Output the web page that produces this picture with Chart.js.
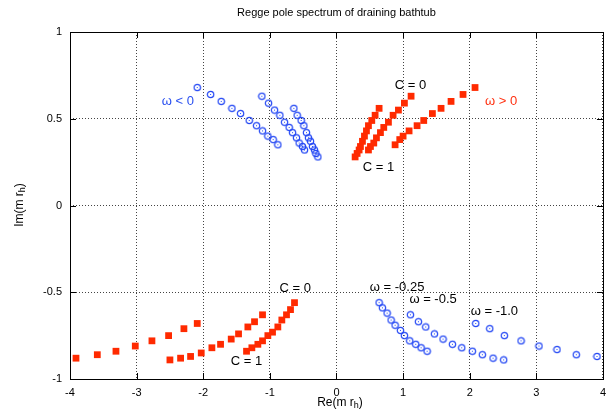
<!DOCTYPE html>
<html>
<head>
<meta charset="utf-8">
<script src="https://cdn.jsdelivr.net/npm/chart.js@4/dist/chart.umd.min.js"></script>
<style>
  html, body { margin: 0; padding: 0; background: #fff; }
</style>
</head>
<body>
<canvas id="chart" width="613" height="414"></canvas>
<script>
// Regge poles, omega < 0 (blue circles, upper left)
const negA_x = [-2.09, -1.89, -1.73, -1.57, -1.44, -1.31, -1.20, -1.11, -1.03, -0.95, -0.88];
const negA_y = [0.68, 0.64, 0.60, 0.56, 0.53, 0.49, 0.46, 0.43, 0.40, 0.38, 0.35];
const negB_x = [-1.12, -1.02, -0.93, -0.85, -0.78, -0.71, -0.66, -0.60, -0.56, -0.51, -0.48];
const negB_y = [0.63, 0.59, 0.55, 0.52, 0.48, 0.45, 0.42, 0.39, 0.36, 0.34, 0.32];
const negC_x = [-0.64, -0.59, -0.53, -0.49, -0.45, -0.42, -0.39, -0.36, -0.33, -0.31, -0.28];
const negC_y = [0.56, 0.52, 0.49, 0.46, 0.42, 0.39, 0.37, 0.34, 0.32, 0.30, 0.28];

// omega > 0 (red squares, upper right)
const posC_x = [0.28, 0.31, 0.34, 0.36, 0.39, 0.42, 0.45, 0.48, 0.53, 0.58, 0.64];
const posC_y = [0.28, 0.30, 0.32, 0.34, 0.37, 0.40, 0.43, 0.46, 0.49, 0.52, 0.56];
const posB_x = [0.48, 0.51, 0.56, 0.60, 0.66, 0.71, 0.78, 0.85, 0.93, 1.02, 1.12];
const posB_y = [0.32, 0.34, 0.36, 0.39, 0.42, 0.45, 0.48, 0.52, 0.55, 0.59, 0.63];
const posA_x = [0.88, 0.95, 1.00, 1.09, 1.21, 1.31, 1.44, 1.57, 1.72, 1.90, 2.08];
const posA_y = [0.35, 0.38, 0.40, 0.43, 0.46, 0.49, 0.53, 0.56, 0.60, 0.64, 0.68];

// lower left (red squares)
const lowP_x = [-3.91, -3.59, -3.31, -3.02, -2.77, -2.52, -2.29, -2.09];
const lowP_y = [-0.88, -0.86, -0.84, -0.81, -0.78, -0.75, -0.71, -0.68];
const lowQ_x = [-2.50, -2.34, -2.19, -2.03, -1.87, -1.74, -1.58, -1.47, -1.33, -1.23, -1.11];
const lowQ_y = [-0.89, -0.88, -0.87, -0.85, -0.82, -0.80, -0.77, -0.74, -0.70, -0.67, -0.63];
const lowR_x = [-1.35, -1.27, -1.18, -1.11, -1.03, -0.96, -0.88, -0.82, -0.75, -0.69, -0.63];
const lowR_y = [-0.84, -0.82, -0.80, -0.78, -0.75, -0.73, -0.70, -0.66, -0.63, -0.60, -0.56];

// lower right (blue circles), omega = -0.25, -0.5, -1.0
const w025_x = [0.64, 0.69, 0.76, 0.82, 0.88, 0.96, 1.02, 1.10, 1.19, 1.27, 1.36];
const w025_y = [-0.56, -0.59, -0.62, -0.66, -0.69, -0.72, -0.75, -0.78, -0.80, -0.82, -0.84];
const w05_x = [1.11, 1.23, 1.34, 1.47, 1.60, 1.74, 1.88, 2.04, 2.19, 2.35, 2.51];
const w05_y = [-0.63, -0.67, -0.70, -0.74, -0.77, -0.80, -0.82, -0.84, -0.86, -0.88, -0.89];
const w10_x = [2.09, 2.30, 2.52, 2.77, 3.04, 3.31, 3.60, 3.91];
const w10_y = [-0.68, -0.71, -0.75, -0.78, -0.81, -0.83, -0.86, -0.87];

// text labels on the plot (data coords)
const labelText = ['ω < 0', 'ω > 0', 'C = 0', 'C = 1', 'C = 0', 'C = 1', 'ω = -0.25', 'ω = -0.5', 'ω = -1.0'];
const labelX = [-2.38, 2.47, 1.11, 0.63, -0.62, -1.35, 0.91, 1.45, 2.37];
const labelY = [0.60, 0.60, 0.69, 0.22, -0.48, -0.90, -0.47, -0.54, -0.61];
const labelColor = ['#2a50f0', '#ff3010', '#000', '#000', '#000', '#000', '#000', '#000', '#000'];

const BLUE = '#2448f4';
const RED = '#ff2a00';

// open circle with a dot in the middle, like gnuplot
function circleMark() {
    let c = document.createElement('canvas');
    c.width = 9; c.height = 9;
    let g = c.getContext('2d');
    g.strokeStyle = BLUE;
    g.lineWidth = 1.2;
    g.beginPath();
    g.arc(4.5, 4.5, 3.2, 0, Math.PI * 2);
    g.stroke();
    g.fillStyle = BLUE;
    g.fillRect(4, 4, 1, 1);
    return c;
}
const circ = circleMark();

function pts(xs, ys) {
    return xs.map((x, i) => ({x: x, y: ys[i]}));
}
function blue(xs, ys) {
    return {data: pts(xs, ys), pointStyle: circ, pointRadius: 4, showLine: false};
}
function red(xs, ys) {
    return {data: pts(xs, ys), pointStyle: 'rect', pointRadius: 4.8, pointBorderWidth: 0,
        backgroundColor: RED, borderColor: RED, showLine: false};
}

const FONT = 'Liberation Sans, Arial, Helvetica, sans-serif';

// frame, inward ticks, labels and axis titles
const extras = {
    id: 'extras',
    afterDatasetsDraw(chart) {
        let ctx = chart.ctx;
        let a = chart.chartArea;
        let xs = chart.scales.x, ys = chart.scales.y;
        ctx.save();
        ctx.strokeStyle = '#000';
        ctx.lineWidth = 1;
        ctx.beginPath();
        xs.ticks.forEach(t => {
            let px = Math.round(xs.getPixelForValue(t.value)) + 0.5;
            ctx.moveTo(px, a.top); ctx.lineTo(px, a.top + 6);
            ctx.moveTo(px, a.bottom); ctx.lineTo(px, a.bottom - 6);
        });
        ys.ticks.forEach(t => {
            let py = Math.round(ys.getPixelForValue(t.value)) + 0.5;
            ctx.moveTo(a.left, py); ctx.lineTo(a.left + 6, py);
            ctx.moveTo(a.right, py); ctx.lineTo(a.right - 6, py);
        });
        ctx.stroke();
        ctx.strokeRect(Math.round(a.left) + 0.5, Math.round(a.top) + 0.5,
            Math.round(a.right - a.left), Math.round(a.bottom - a.top));

        ctx.font = '13px ' + FONT;
        ctx.textAlign = 'center';
        ctx.textBaseline = 'middle';
        labelText.forEach((s, i) => {
            ctx.fillStyle = labelColor[i];
            ctx.fillText(s, xs.getPixelForValue(labelX[i]), ys.getPixelForValue(labelY[i]));
        });

        // x title: Re(m r_h)
        ctx.fillStyle = '#000';
        drawSub(ctx, 'Re(m r', 'h', ')', 340, 403);
        // y title, rotated
        ctx.translate(20, 205);
        ctx.rotate(-Math.PI / 2);
        drawSub(ctx, 'Im(m r', 'h', ')', 0, 0);
        ctx.restore();
    }
};

function drawSub(ctx, a, sub, b, cx, cy) {
    ctx.font = '12px ' + FONT;
    let wa = ctx.measureText(a).width;
    let wb = ctx.measureText(b).width;
    ctx.font = '9px ' + FONT;
    let ws = ctx.measureText(sub).width;
    let x0 = cx - (wa + ws + wb) / 2;
    ctx.textAlign = 'left';
    ctx.textBaseline = 'middle';
    ctx.font = '12px ' + FONT;
    ctx.fillText(a, x0, cy);
    ctx.font = '9px ' + FONT;
    ctx.fillText(sub, x0 + wa, cy + 3);
    ctx.font = '12px ' + FONT;
    ctx.fillText(b, x0 + wa + ws, cy);
}

const gridOpts = {color: '#444', lineWidth: 1, drawTicks: false, tickLength: 0};
// plain numbers on the ticks: 1, 0.5, 0, -0.5, -1
const plainTick = v => String(v);

new Chart(document.getElementById('chart'), {
    type: 'scatter',
    data: {
        datasets: [
            blue(negA_x, negA_y), blue(negB_x, negB_y), blue(negC_x, negC_y),
            red(posC_x, posC_y), red(posB_x, posB_y), red(posA_x, posA_y),
            red(lowP_x, lowP_y), red(lowQ_x, lowQ_y), red(lowR_x, lowR_y),
            blue(w025_x, w025_y), blue(w05_x, w05_y), blue(w10_x, w10_y)
        ]
    },
    options: {
        responsive: false,
        animation: false,
        devicePixelRatio: 1,
        layout: {padding: {left: 0, right: 9, top: 0, bottom: 0}},
        plugins: {
            legend: {display: false},
            tooltip: {enabled: false},
            title: {
                display: true,
                text: 'Regge pole spectrum of draining bathtub',
                fullSize: false,
                color: '#000',
                font: {family: FONT, size: 11, weight: 'normal'},
                padding: {top: 6, bottom: 12.8}
            }
        },
        scales: {
            x: {
                type: 'linear', min: -4, max: 4,
                ticks: {stepSize: 1, color: '#000', padding: 7, font: {family: FONT, size: 11}, callback: plainTick},
                grid: gridOpts,
                border: {display: false, dash: [1, 2]},
                afterFit: s => { s.height = 35; }
            },
            y: {
                type: 'linear', min: -1, max: 1,
                ticks: {stepSize: 0.5, color: '#000', padding: 8, font: {family: FONT, size: 11}, callback: plainTick},
                grid: gridOpts,
                border: {display: false, dash: [1, 2]},
                afterFit: s => { s.width = 70; }
            }
        }
    },
    plugins: [extras]
});
</script>
</body>
</html>
